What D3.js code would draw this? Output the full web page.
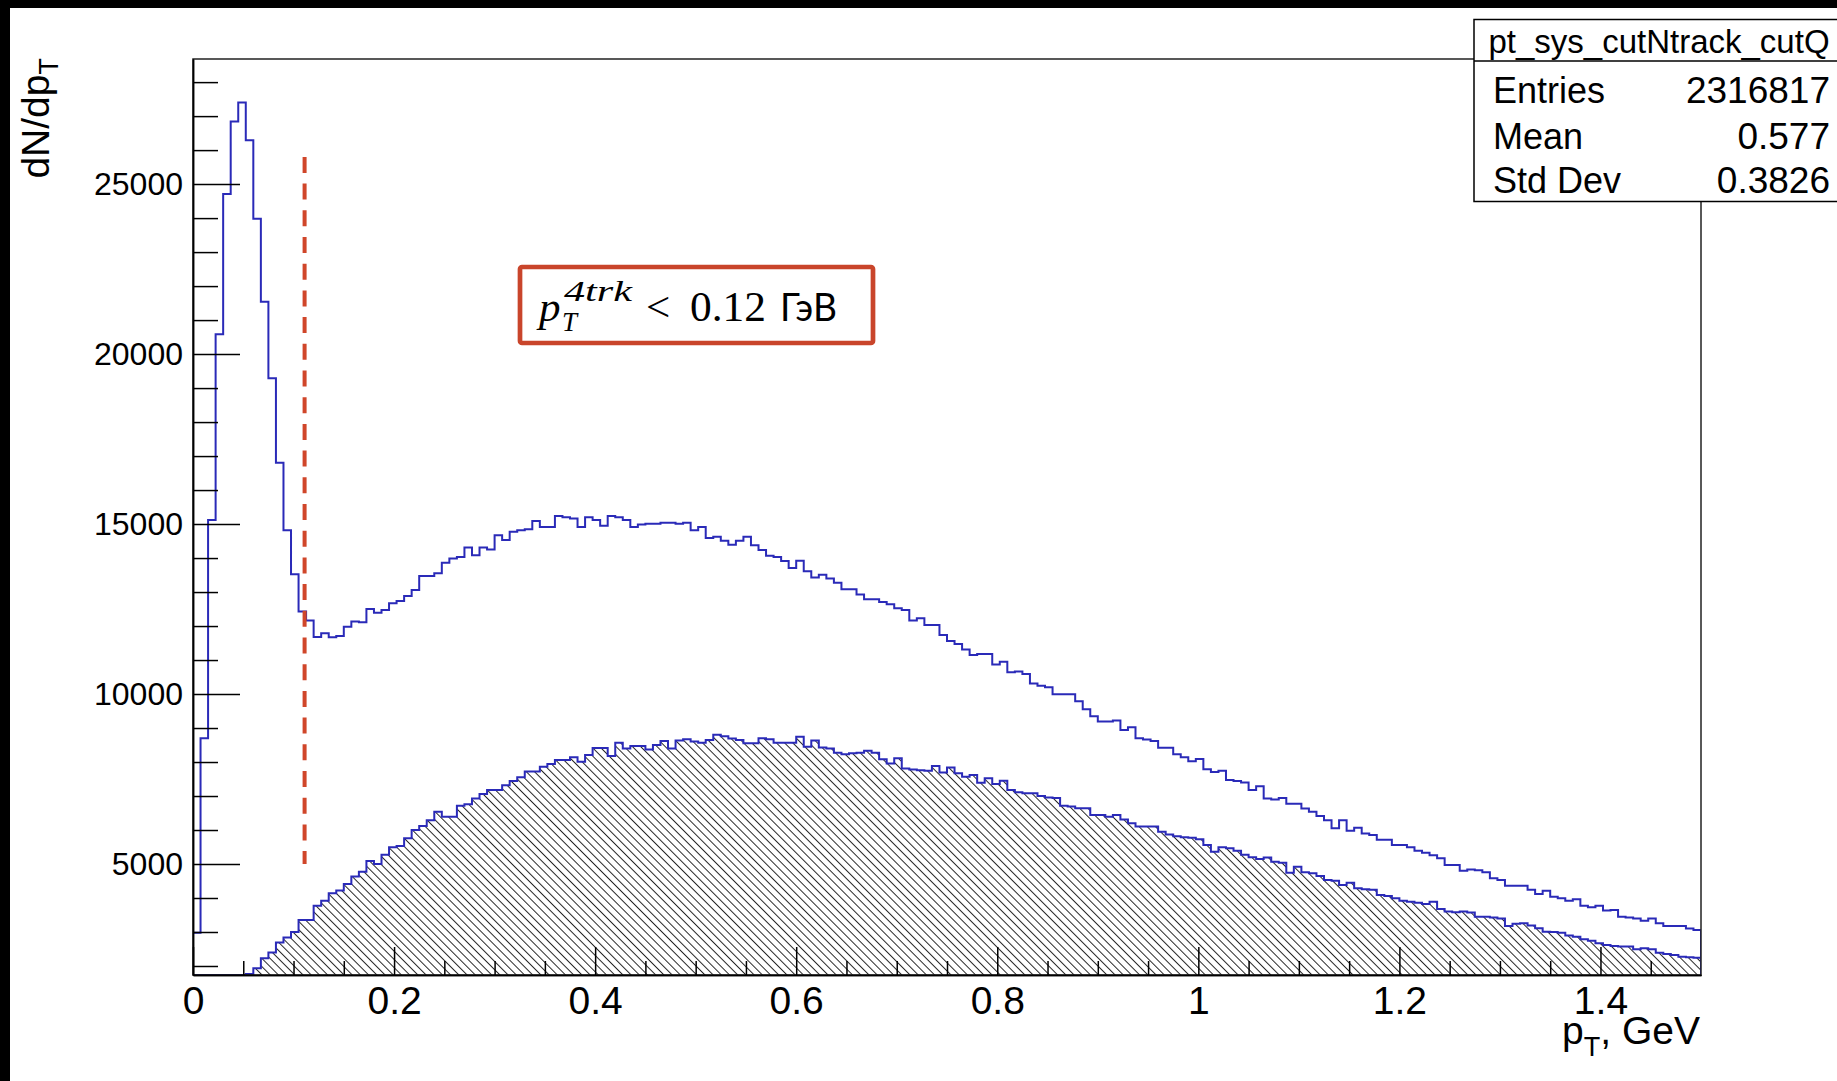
<!DOCTYPE html>
<html>
<head>
<meta charset="utf-8">
<script src="https://cdn.jsdelivr.net/npm/d3@7"></script>
<style>
  html, body { margin: 0; padding: 0; background: #000; }
  svg { display: block; }
</style>
</head>
<body>
<script>
// ---------------- DATA ----------------
const binLow = 0.0;
const binWidth = 0.0075;
// upper histogram (blue outline), 200 bins from 0 to 1.5 GeV
const allTracks = [
  2980, 8700, 15120, 20580, 24710, 26840, 27400, 26290, 23980, 21540,
  19290, 16800, 14820, 13520, 12430, 12160, 11680, 11790, 11670, 11710,
  11980, 12130, 12110, 12500, 12390, 12470, 12670, 12740, 12880, 13060,
  13470, 13470, 13550, 13860, 13990, 14030, 14310, 14080, 14310, 14250,
  14670, 14530, 14770, 14820, 14850, 15090, 14910, 14910, 15240, 15200,
  15160, 14910, 15200, 15120, 14950, 15240, 15200, 15120, 14910, 14990,
  15010, 15010, 15040, 15040, 15010, 15040, 14820, 14910, 14590, 14630,
  14510, 14390, 14510, 14630, 14380, 14240, 14070, 14030, 13910, 13710,
  13920, 13610, 13430, 13510, 13400, 13270, 13080, 13080, 12930, 12790,
  12790, 12710, 12640, 12520, 12470, 12160, 12230, 12030, 12030, 11740,
  11560, 11470, 11310, 11150, 11180, 11180, 10870, 10950, 10640, 10660,
  10590, 10310, 10240, 10200, 9990, 9990, 9990, 9790, 9550, 9350,
  9190, 9190, 9220, 8940, 9020, 8700, 8660, 8620, 8420, 8420,
  8230, 8140, 8020, 8090, 7790, 7710, 7740, 7470, 7440, 7400,
  7180, 7290, 6930, 6900, 6940, 6770, 6770, 6630, 6540, 6410,
  6290, 6050, 6290, 5980, 6070, 5900, 5850, 5710, 5710, 5560,
  5560, 5490, 5390, 5330, 5260, 5170, 4970, 4970, 4800, 4840,
  4820, 4760, 4580, 4530, 4360, 4360, 4360, 4240, 4120, 4210,
  4040, 3990, 3920, 3960, 3770, 3730, 3770, 3630, 3650, 3450,
  3430, 3400, 3330, 3400, 3260, 3180, 3180, 3180, 3100, 3060
];
// lower histogram (hatched), 200 bins
const cutTracks = [
  0, 0, 0, 0, 0, 0, 0, 1765, 1930, 2230,
  2400, 2690, 2840, 3000, 3350, 3350, 3770, 3920, 4140, 4220,
  4410, 4630, 4770, 5090, 5000, 5270, 5490, 5530, 5760, 6000,
  6120, 6290, 6540, 6390, 6390, 6710, 6760, 6930, 7060, 7180,
  7180, 7320, 7440, 7550, 7720, 7720, 7860, 7940, 8060, 8060,
  8140, 8010, 8210, 8410, 8410, 8180, 8570, 8400, 8470, 8470,
  8370, 8500, 8620, 8400, 8630, 8670, 8600, 8570, 8650, 8800,
  8760, 8690, 8650, 8550, 8550, 8700, 8670, 8570, 8570, 8570,
  8740, 8450, 8630, 8430, 8400, 8270, 8230, 8260, 8270, 8330,
  8270, 8080, 7960, 8110, 7810, 7780, 7760, 7740, 7880, 7690,
  7840, 7670, 7570, 7620, 7390, 7520, 7350, 7450, 7180, 7110,
  7080, 7080, 7000, 6960, 6940, 6710, 6690, 6640, 6640, 6440,
  6440, 6390, 6440, 6310, 6200, 6100, 6100, 6100, 5950, 5870,
  5820, 5790, 5770, 5730, 5560, 5360, 5490, 5460, 5390, 5270,
  5200, 5150, 5190, 5070, 5040, 4740, 4920, 4760, 4730, 4650,
  4530, 4510, 4380, 4450, 4290, 4260, 4240, 4090, 4060, 3990,
  3920, 3890, 3860, 3820, 3890, 3680, 3600, 3580, 3600, 3570,
  3450, 3450, 3430, 3400, 3180, 3240, 3260, 3190, 3110, 3010,
  3000, 2980, 2900, 2860, 2790, 2740, 2670, 2620, 2590, 2570,
  2570, 2490, 2520, 2490, 2390, 2350, 2320, 2270, 2260, 2240
];
const xMajorTicks = [0, 0.2, 0.4, 0.6, 0.8, 1.0, 1.2, 1.4];
const xTickLabels = ["0", "0.2", "0.4", "0.6", "0.8", "1", "1.2", "1.4"];
const xMinorTicks = [0.05,0.1,0.15,0.25,0.3,0.35,0.45,0.5,0.55,0.65,0.7,0.75,0.85,0.9,0.95,1.05,1.1,1.15,1.25,1.3,1.35,1.45];
const yMajorTicks = [5000, 10000, 15000, 20000, 25000];
const yTickLabels = ["5000", "10000", "15000", "20000", "25000"];
const yMinorTicks = [2000,3000,4000,6000,7000,8000,9000,11000,12000,13000,14000,16000,17000,18000,19000,21000,22000,23000,24000,26000,27000,28000];
const xDomain = [0, 1.5];
const yDomain = [1735, 28680];
const cutValue = 0.111;           // dashed cut line position (GeV)
const cutLineRange = [5000, 25800];
const statsTitle = "pt_sys_cutNtrack_cutQ";
const statsRows = [["Entries", "2316817"], ["Mean", "0.577"], ["Std Dev", "0.3826"]];

// ---------------- DRAW ----------------
const W = 1837, H = 1081;
const svg = d3.select("body").append("svg").attr("width", W).attr("height", H);
svg.append("rect").attr("x", 0).attr("y", 0).attr("width", W).attr("height", H).attr("fill", "#000");
svg.append("rect").attr("x", 10).attr("y", 8).attr("width", W - 10).attr("height", H - 8).attr("fill", "#fff");

const x = d3.scaleLinear().domain(xDomain).range([193, 1701]);
const y = d3.scaleLinear().domain(yDomain).range([975, 59]);

const defs = svg.append("defs");
const pat = defs.append("pattern").attr("id", "hatch").attr("patternUnits", "userSpaceOnUse")
  .attr("width", 5.8).attr("height", 20).attr("patternTransform", "rotate(-45)");
pat.append("line").attr("x1", 0.5).attr("y1", -2).attr("x2", 0.5).attr("y2", 22)
  .attr("stroke", "#1a1a1a").attr("stroke-width", 0.95);
defs.append("clipPath").attr("id", "plotclip").append("rect")
  .attr("x", 193).attr("y", 59).attr("width", 1508).attr("height", 916);

function stepPoints(vals) {
  const pts = [[x(binLow), y(yDomain[0])]];
  vals.forEach((v, i) => {
    const vv = Math.max(v, yDomain[0]);
    const xl = x(binLow + i * binWidth), xr = x(binLow + (i + 1) * binWidth);
    pts.push([xl, y(vv)]);
    pts.push([xr, y(vv)]);
  });
  pts.push([x(binLow + vals.length * binWidth), y(yDomain[0])]);
  return pts;
}
const line = d3.line();
const g = svg.append("g").attr("clip-path", "url(#plotclip)");

// hatched histogram fill
const lowPts = stepPoints(cutTracks);
g.append("path").attr("d", line(lowPts) + "Z").attr("fill", "url(#hatch)").attr("stroke", "none");
// outlines
g.append("path").attr("d", line(lowPts)).attr("fill", "none").attr("stroke", "#2a2ab8").attr("stroke-width", 2);
g.append("path").attr("d", line(stepPoints(allTracks))).attr("fill", "none").attr("stroke", "#2a2ab8").attr("stroke-width", 2);

// frame
svg.append("rect").attr("x", 193).attr("y", 59).attr("width", 1508).attr("height", 916)
  .attr("fill", "none").attr("stroke", "#222").attr("stroke-width", 1.5);

// axes
const font = "'Liberation Sans', Arial, Helvetica, sans-serif";
const yAxisMajor = d3.axisLeft(y).tickValues(yMajorTicks).tickSize(-47).tickSizeOuter(0).tickPadding(10)
  .tickFormat((d, i) => yTickLabels[i]);
const yAxisMinor = d3.axisLeft(y).tickValues(yMinorTicks).tickSize(-25).tickSizeOuter(0).tickFormat("");
const xAxisMajor = d3.axisBottom(x).tickValues(xMajorTicks).tickSize(-28).tickSizeOuter(0).tickPadding(11)
  .tickFormat((d, i) => xTickLabels[i]);
const xAxisMinor = d3.axisBottom(x).tickValues(xMinorTicks).tickSize(-14).tickSizeOuter(0).tickFormat("");

function styleAxis(sel, fs) {
  sel.select(".domain").attr("stroke", "#000").attr("stroke-width", 1.5);
  sel.selectAll(".tick line").attr("stroke", "#000").attr("stroke-width", 1.5);
  sel.selectAll(".tick text").attr("fill", "#000").style("font-family", font).style("font-size", fs + "px");
}
svg.append("g").attr("transform", "translate(193,0)").call(yAxisMinor).call(s => styleAxis(s, 32));
svg.append("g").attr("transform", "translate(193,0)").call(yAxisMajor).call(s => styleAxis(s, 32));
svg.append("g").attr("transform", "translate(0,975)").call(xAxisMinor).call(s => styleAxis(s, 39));
svg.append("g").attr("transform", "translate(0,975)").call(xAxisMajor).call(s => styleAxis(s, 39));

// axis titles
const yt = svg.append("text").attr("transform", "translate(49,58) rotate(-90)")
  .attr("text-anchor", "end").style("font-family", font).style("font-size", "39px").attr("fill", "#000");
yt.append("tspan").text("dN/dp");
yt.append("tspan").attr("dy", 9).style("font-size", "27px").text("T");

const xt = svg.append("text").attr("x", 1700).attr("y", 1044)
  .attr("text-anchor", "end").style("font-family", font).style("font-size", "39px").attr("fill", "#000");
xt.append("tspan").text("p");
xt.append("tspan").attr("dy", 12).style("font-size", "27px").text("T");
xt.append("tspan").attr("dy", -12).text(", GeV");

// cut line
svg.append("line").attr("x1", x(cutValue)).attr("x2", x(cutValue))
  .attr("y1", y(cutLineRange[1])).attr("y2", y(cutLineRange[0]))
  .attr("stroke", "#d0462a").attr("stroke-width", 4).attr("stroke-dasharray", "16,10.7");

// annotation box
svg.append("rect").attr("x", 520).attr("y", 267).attr("width", 353).attr("height", 76).attr("rx", 2)
  .attr("fill", "#fff").attr("stroke", "#c9452b").attr("stroke-width", 4.7);
const serif = "'Liberation Serif', 'DejaVu Serif', serif";
svg.append("text").attr("x", 539).attr("y", 321).attr("fill", "#000")
  .style("font-family", serif).style("font-style", "italic").style("font-size", "43px").text("p");
svg.append("text").attr("x", 564).attr("y", 301).attr("fill", "#000")
  .attr("textLength", 68).attr("lengthAdjust", "spacingAndGlyphs")
  .style("font-family", serif).style("font-style", "italic").style("font-size", "30px").text("4trk");
svg.append("text").attr("x", 562).attr("y", 331).attr("fill", "#000")
  .style("font-family", serif).style("font-style", "italic").style("font-size", "27px").text("T");
svg.append("text").attr("x", 646).attr("y", 321).attr("fill", "#000")
  .style("font-family", serif).style("font-size", "43px").text("<");
svg.append("text").attr("x", 690).attr("y", 321).attr("fill", "#000")
  .attr("textLength", 76).attr("lengthAdjust", "spacingAndGlyphs")
  .style("font-family", serif).style("font-size", "43px").text("0.12");
svg.append("text").attr("x", 780).attr("y", 321).attr("fill", "#000")
  .attr("textLength", 57).attr("lengthAdjust", "spacingAndGlyphs")
  .style("font-family", "Lato, 'Open Sans', sans-serif").style("font-size", "38px").text("ГэВ");

// stats box
svg.append("rect").attr("x", 1474).attr("y", 19.5).attr("width", 420).attr("height", 182)
  .attr("fill", "#fff").attr("stroke", "#000").attr("stroke-width", 1.5);
svg.append("line").attr("x1", 1474).attr("x2", 1837).attr("y1", 61).attr("y2", 61)
  .attr("stroke", "#000").attr("stroke-width", 1.5);
svg.append("text").attr("x", 1659).attr("y", 53).attr("text-anchor", "middle")
  .style("font-family", font).style("font-size", "33px").attr("fill", "#000").text(statsTitle);
const rowY = [103, 149, 193];
statsRows.forEach((r, i) => {
  svg.append("text").attr("x", 1493).attr("y", rowY[i]).style("font-family", font).style("font-size", "36px")
    .attr("fill", "#000").text(r[0]);
  svg.append("text").attr("x", 1830).attr("y", rowY[i]).attr("text-anchor", "end").style("font-family", font)
    .style("font-size", "37px").attr("fill", "#000").text(r[1]);
});
</script>
</body>
</html>
